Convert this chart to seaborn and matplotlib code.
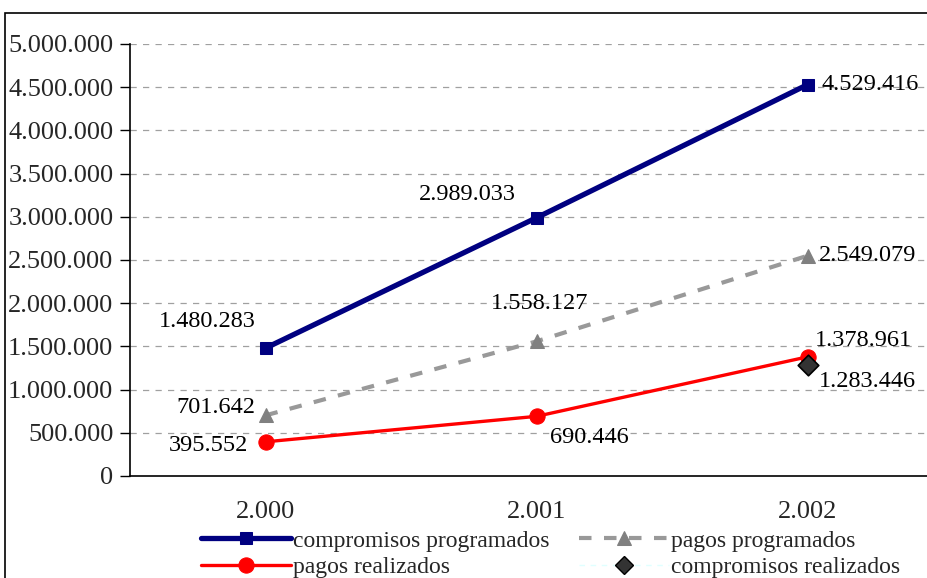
import matplotlib
matplotlib.use("Agg")
import matplotlib.pyplot as plt
import seaborn as sns
import pandas as pd
from matplotlib.patches import Rectangle
from matplotlib.lines import Line2D

years = ["2.000", "2.001", "2.002"]
comp_prog = [1480283, 2989033, 4529416]
pagos_prog = [701642, 1558127, 2549079]
pagos_real = [395552, 690446, 1378961]
comp_real = [None, None, 1283446]
yticks = [0, 500000, 1000000, 1500000, 2000000, 2500000, 3000000, 3500000, 4000000, 4500000, 5000000]

sns.set_theme(style="white")
plt.rcParams['font.family'] = ['Liberation Serif', 'DejaVu Serif']

def fmt(v):
    return f"{int(v):,}".replace(",", ".")

fig = plt.figure(figsize=(9.28, 5.78), dpi=100)
fig.patches.append(Rectangle((5/928, -0.1), 1.0, 1 - 13/578 + 0.1, transform=fig.transFigure,
                             fill=False, edgecolor="black", linewidth=1.2, zorder=0))
ax = fig.add_axes([130/928, (578-476)/578, 813/928, 432/578])

x = [0, 1, 2]
df1 = pd.DataFrame({"x": x, "y": comp_prog})
df2 = pd.DataFrame({"x": x, "y": pagos_prog})
df3 = pd.DataFrame({"x": x, "y": pagos_real})
df4 = pd.DataFrame({"x": [2], "y": [comp_real[2]]})

sns.lineplot(data=df2, x="x", y="y", ax=ax, color="#999999", lw=3.0,
             marker="^", markersize=10, markerfacecolor="#808080", markeredgecolor="#808080",
             label="pagos programados", zorder=3)
ax.lines[-1].set_dashes([3, 3])
sns.lineplot(data=df3, x="x", y="y", ax=ax, color="#FF0000", lw=2.4,
             marker="o", markersize=11, markeredgecolor="#FF0000",
             label="pagos realizados", zorder=4)
sns.lineplot(data=df1, x="x", y="y", ax=ax, color="#000080", lw=3.8,
             marker="s", markersize=9, markeredgecolor="#000080",
             label="compromisos programados", zorder=5)
sns.scatterplot(data=df4, x="x", y="y", ax=ax, marker="D", s=110, color="#333333",
                edgecolor="black", linewidth=1.2, zorder=6)

ax.set_xlim(-0.5, 2.5)
ax.set_ylim(0, 5000000)
ax.set_yticks(yticks)
ax.set_yticklabels([fmt(v) for v in yticks], fontsize=19)
ax.set_xticks(x)
ax.set_xticklabels(years, fontsize=19)
ax.set_xticks([-0.5, 0.5, 1.5, 2.5], minor=True)
ax.tick_params(axis="x", which="major", length=0, pad=18)
ax.tick_params(axis="x", which="minor", length=6, width=1, color="black", direction="out")
ax.tick_params(axis="y", which="major", length=7, width=1, color="black", direction="out", left=True, pad=5)
ax.set_xlabel("")
ax.set_ylabel("")
for yv in yticks[1:]:
    ax.axhline(yv, color="#A0A0A0", lw=0.9, ls=(0, (5, 5)), zorder=1)
for s in ["top", "right"]:
    ax.spines[s].set_visible(False)
for s in ["left", "bottom"]:
    ax.spines[s].set_color("black")
    ax.spines[s].set_linewidth(1.2)

ann = [
    (0, comp_prog[0], -42, 19), (1, comp_prog[1], -50, 17), (2, comp_prog[2], 45, 0),
    (0, pagos_prog[0], -36, 6), (1, pagos_prog[1], 2, 27), (2, pagos_prog[2], 43, 0),
    (0, pagos_real[0], -41, -3), (1, pagos_real[1], 38, -15), (2, pagos_real[2], 40, 12),
    (2, comp_real[2], 43, -12),
]
for xi, yi, dx, dy in ann:
    ax.annotate(fmt(yi), (xi, yi), xytext=(dx, dy), textcoords="offset points",
                ha="center", va="center", fontsize=17.5, color="black", zorder=7)

if ax.get_legend():
    ax.get_legend().remove()
h, l = ax.get_legend_handles_labels()
hd = dict(zip(l, h))
hd["compromisos realizados"] = Line2D([], [], color="#E0FFFF", lw=1, ls=(0, (4, 4)), marker="D",
                                      markersize=9, markerfacecolor="#333333", markeredgecolor="black")
order = ["compromisos programados", "pagos realizados", "pagos programados", "compromisos realizados"]
leg = fig.legend([hd[k] for k in order], order, ncol=2, loc="center left",
                 bbox_to_anchor=(201/928, 1 - 554/578), frameon=False, fontsize=17,
                 handlelength=3.8, handletextpad=0.1, columnspacing=1.25,
                 labelspacing=0.2, borderpad=0, borderaxespad=0)

fig.savefig("out.png", dpi=100)
